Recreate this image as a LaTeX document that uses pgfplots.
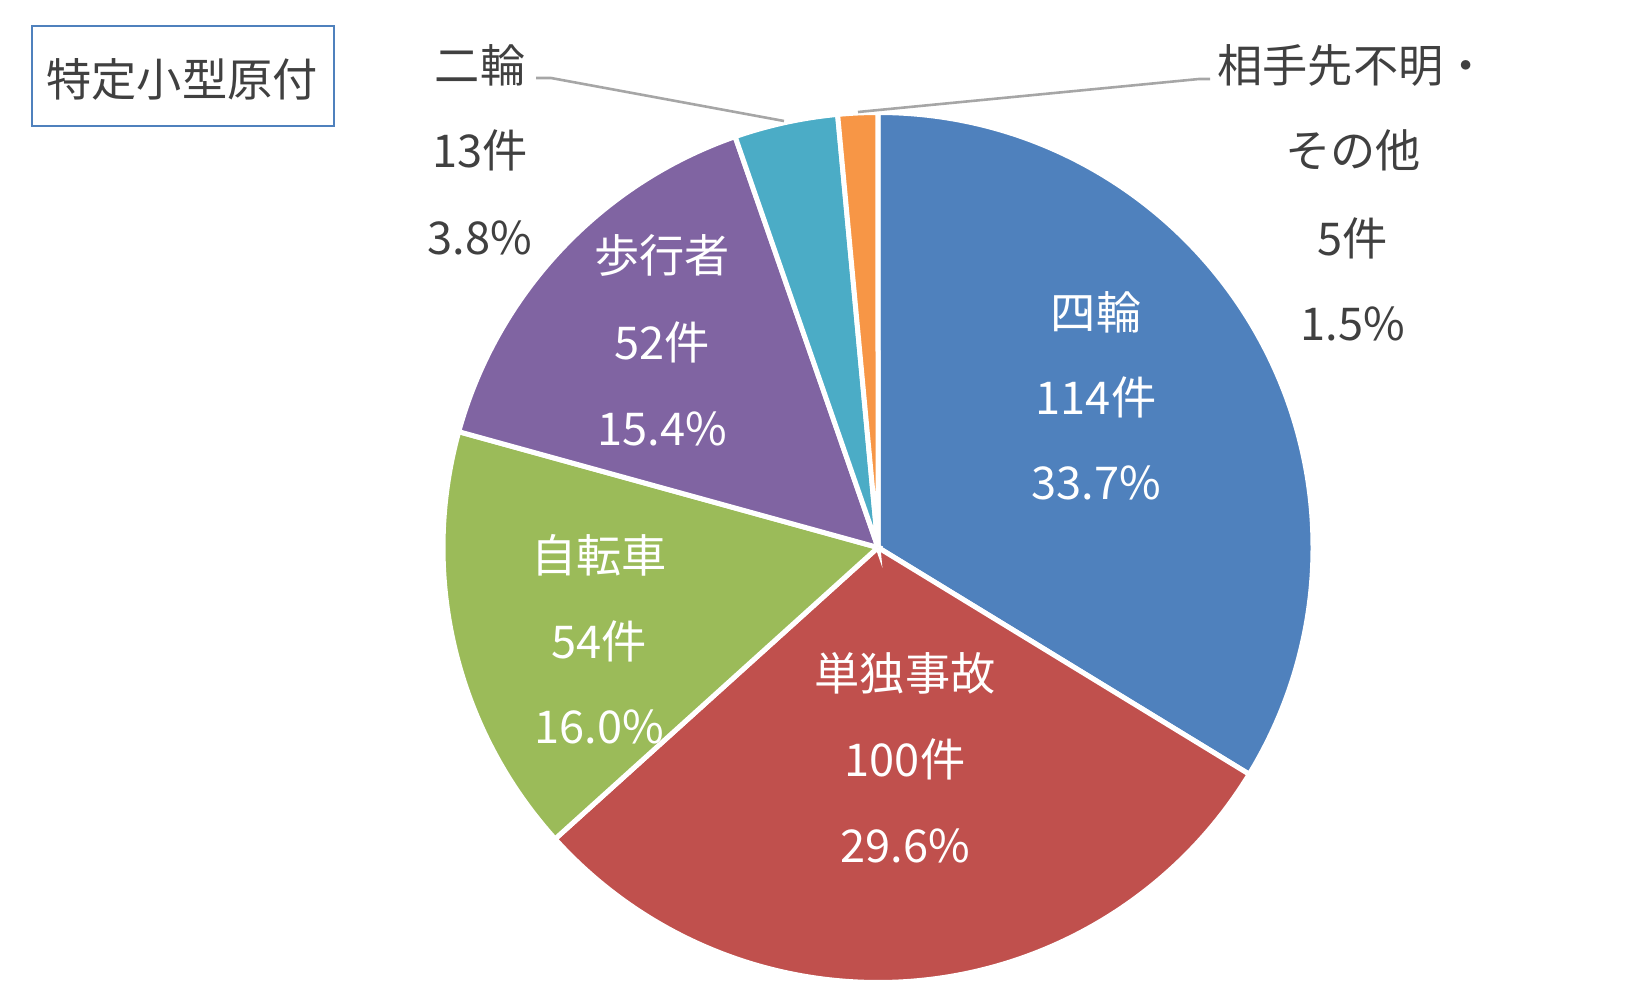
\documentclass[border=0pt]{standalone}
\usepackage{pgfplots}
\usepackage{pgfplotstable}
\pgfplotsset{compat=1.18}
\usepackage{fontspec}
\setmainfont{Noto Sans CJK JP}
\definecolor{s0}{HTML}{4F81BD}
\definecolor{s1}{HTML}{C0504D}
\definecolor{s2}{HTML}{9BBB59}
\definecolor{s3}{HTML}{8064A2}
\definecolor{s4}{HTML}{4BACC6}
\definecolor{s5}{HTML}{F79646}
\definecolor{txt}{HTML}{404040}
\definecolor{lead}{HTML}{A6A6A6}
\definecolor{boxc}{HTML}{4F81BD}

\pgfplotstableread{
count
114
100
54
52
13
5
}\piedata

\begin{document}
\begin{tikzpicture}
\def\total{0}%
\pgfplotsforeachungrouped \i in {0,...,5}{%
  \pgfplotstablegetelem{\i}{count}\of\piedata
  \pgfmathsetmacro\total{\total+\pgfplotsretval}%
}%
\pgfmathsetmacro\degper{360/\total}%
\def\cum{0}%
\pgfplotsforeachungrouped \i in {0,...,5}{%
  \pgfplotstablegetelem{\i}{count}\of\piedata
  \pgfmathsetmacro\sa{90-\cum*\degper}%
  \pgfmathsetmacro\cum{\cum+\pgfplotsretval}%
  \pgfmathsetmacro\ea{90-\cum*\degper}%
  \expandafter\xdef\csname sa\i\endcsname{\sa}%
  \expandafter\xdef\csname ea\i\endcsname{\ea}%
}%
\begin{axis}[scale only axis, width=825pt, height=495pt,
  xmin=0, xmax=1650, ymin=0, ymax=990, y dir=reverse,
  hide axis, clip=false]
\path (axis cs:0,0) rectangle (axis cs:1650,990);
\pgfplotsinvokeforeach{0,...,5}{%
  \filldraw[fill=s#1, draw=white, line width=2.5pt]
    (axis cs:878,547.5) -- ++(\csname sa#1\endcsname:217.5pt)
    arc[start angle=\csname sa#1\endcsname, end angle=\csname ea#1\endcsname, radius=217.5pt] -- cycle;
}
% title box
\draw[boxc, line width=1pt] (axis cs:32,26) rectangle (axis cs:334,126);
\node[txt, font=\fontsize{22.6}{26}\selectfont] at (axis cs:182,79) {特定小型原付};
% leader lines
\draw[lead, line width=1.3pt] (axis cs:536,78) -- (axis cs:551,78) -- (axis cs:784,121);
\draw[lead, line width=1.3pt] (axis cs:1210,79) -- (axis cs:1199,79) -- (axis cs:858,112);
\tikzset{lab/.style={font=\fontsize{22.6}{26}\selectfont, anchor=center}}
% inside labels
\node[lab, white] at (axis cs:1096,312) {四輪};
\node[lab, white] at (axis cs:1096,397) {114件};
\node[lab, white] at (axis cs:1096,483) {33.7\%};
\node[lab, white] at (axis cs:905,673) {単独事故};
\node[lab, white] at (axis cs:905,759) {100件};
\node[lab, white] at (axis cs:905,846) {29.6\%};
\node[lab, white] at (axis cs:599,555) {自転車};
\node[lab, white] at (axis cs:599,641) {54件};
\node[lab, white] at (axis cs:599,727) {16.0\%};
\node[lab, white] at (axis cs:662,255) {歩行者};
\node[lab, white] at (axis cs:662,342) {52件};
\node[lab, white] at (axis cs:662,429) {15.4\%};
% outside labels
\node[lab, txt] at (axis cs:480,65) {二輪};
\node[lab, txt] at (axis cs:480,150) {13件};
\node[lab, txt] at (axis cs:480,238) {3.8\%};
\node[lab, txt] at (axis cs:1353,65) {相手先不明・};
\node[lab, txt] at (axis cs:1353,150) {その他};
\node[lab, txt] at (axis cs:1353,238) {5件};
\node[lab, txt] at (axis cs:1353,324) {1.5\%};
\end{axis}
\end{tikzpicture}
\end{document}
